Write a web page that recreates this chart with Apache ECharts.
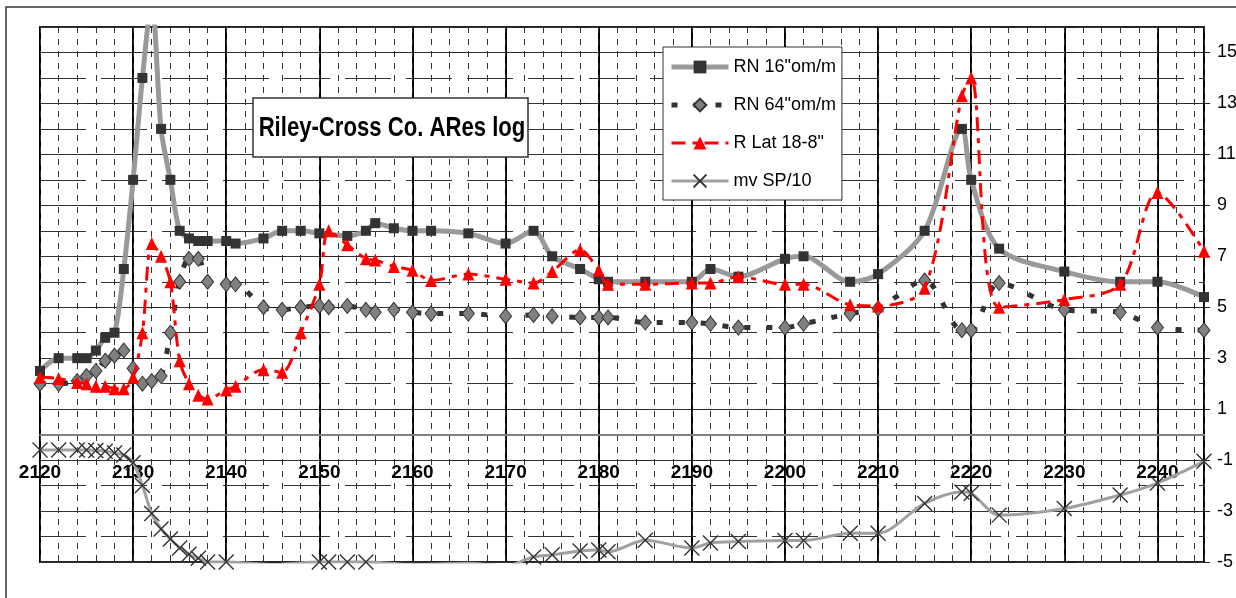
<!DOCTYPE html>
<html>
<head>
<meta charset="utf-8">
<script src="https://cdn.jsdelivr.net/npm/echarts@6/dist/echarts.min.js"></script>
<style>html,body{margin:0;padding:0;background:#fff;}#c{width:1236px;height:598px;}</style>
</head>
<body>
<div id="c"></div>
<script>
// ---- data ----
const rn16Depth = [2120,2122,2124,2125,2126,2127,2128,2129,2130,2131,2132,2133,2134,2135,2136,2137,2138,2140,2141,2144,2146,2148,2150,2153,2155,2156,2158,2160,2162,2166,2170,2173,2175,2178,2180,2181,2185,2190,2192,2195,2200,2202,2207,2210,2215,2219,2220,2223,2230,2236,2240,2245];
const rn16Value = [2.5,3.0,3.0,3.0,3.3,3.8,4.0,6.5,10,14,17,12,10,8.0,7.7,7.6,7.6,7.6,7.5,7.7,8.0,8.0,7.9,7.8,8.0,8.3,8.1,8.0,8.0,7.9,7.5,8.0,7.0,6.5,6.1,6.0,6.0,6.0,6.5,6.2,6.9,7.0,6.0,6.3,8.0,12,10,7.3,6.4,6.0,6.0,5.4];

const rn64Depth = [2120,2122,2124,2125,2126,2127,2128,2129,2130,2131,2132,2133,2134,2135,2136,2137,2138,2140,2141,2144,2146,2148,2150,2151,2153,2155,2156,2158,2160,2162,2166,2170,2173,2175,2178,2180,2181,2185,2190,2192,2195,2200,2202,2207,2210,2215,2219,2220,2223,2230,2236,2240,2245];
const rn64Value = [2.0,2.0,2.1,2.3,2.5,2.9,3.1,3.3,2.6,2.0,2.1,2.3,4.0,6.0,6.9,6.9,6.0,5.9,5.9,5.0,4.9,5.0,5.05,5.0,5.05,4.9,4.8,4.9,4.8,4.75,4.75,4.65,4.7,4.65,4.6,4.6,4.6,4.4,4.4,4.35,4.2,4.2,4.35,4.75,4.95,6.05,4.1,4.1,5.95,4.9,4.8,4.2,4.1];

const rlatDepth = [2120,2122,2124,2125,2126,2127,2128,2129,2130,2131,2132,2133,2134,2135,2136,2137,2138,2140,2141,2144,2146,2148,2150,2151,2153,2155,2156,2158,2160,2162,2166,2170,2173,2175,2178,2180,2181,2185,2190,2192,2195,2200,2202,2207,2210,2215,2219,2220,2223,2230,2236,2240,2245];
const rlatValue = [2.25,2.2,2.05,2.0,1.9,1.9,1.8,1.8,2.25,4.0,7.5,7.0,6.0,2.9,2.0,1.55,1.4,1.75,1.9,2.55,2.45,4.0,5.9,8.0,7.45,6.9,6.85,6.6,6.45,6.05,6.3,6.1,5.95,6.4,7.25,6.45,5.9,5.9,5.95,5.95,6.2,5.9,5.9,5.1,5.05,5.75,13.3,14.0,5.0,5.3,5.9,9.5,7.2];

const spDepth = [2120,2122,2124,2125,2126,2127,2128,2129,2130,2131,2132,2133,2134,2135,2136,2137,2138,2140,2145,2150,2151,2153,2155,2160,2166,2170,2173,2175,2178,2180,2181,2185,2190,2192,2195,2200,2202,2207,2210,2215,2219,2220,2223,2230,2236,2240,2245];
const spValue = [-0.6,-0.6,-0.6,-0.6,-0.62,-0.65,-0.72,-0.8,-1.1,-2.0,-3.1,-3.7,-4.1,-4.45,-4.7,-4.85,-5.0,-5.0,-5.1,-5.0,-5.0,-5.0,-5.0,-5.1,-5.05,-5.15,-4.8,-4.72,-4.57,-4.53,-4.6,-4.15,-4.45,-4.25,-4.2,-4.16,-4.16,-3.87,-3.87,-2.7,-2.25,-2.3,-3.16,-2.9,-2.37,-1.9,-1.05];

const seriesNames = ['RN 16"om/m', 'RN 64"om/m', 'R Lat 18-8"', 'mv SP/10'];
const titleText = 'Riley-Cross Co. ARes log';

// ---- chart ----
const FONT = "'Liberation Sans', Arial, sans-serif";
const pair = (xs, ys) => xs.map((x, i) => [x, ys[i]]);

const chart = echarts.init(document.getElementById('c'), null, {renderer: 'canvas'});
chart.setOption({
  animation: false,
  backgroundColor: '#fff',
  grid: {left: 40, top: 27, right: 32, bottom: 36, outerBoundsMode: 'none', containLabel: false,
         show: true, borderColor: '#222', borderWidth: 2, backgroundColor: 'transparent'},
  xAxis: [{
    type: 'value', min: 2120, max: 2245, interval: 10,
    axisLine: {onZero: true, onZeroAxisIndex: 0, lineStyle: {color: '#808080', width: 2}},
    axisTick: {show: false},
    axisLabel: {margin: -99, fontSize: 19, fontWeight: 'bold', fontFamily: FONT, color: '#000',
                showMaxLabel: false, showMinLabel: true, formatter: (v) => String(v)},
    splitLine: {show: true, lineStyle: {color: '#000', width: 2}}
  }, {
    type: 'value', min: 2120, max: 2245, interval: 2, position: 'top',
    axisLine: {show: false}, axisTick: {show: false}, axisLabel: {show: false},
    splitLine: {show: true, lineStyle: {color: '#333', width: 1, type: [6, 6]}}
  }],
  yAxis: [{
    type: 'value', position: 'right', min: -5, max: 16, interval: 2,
    axisLine: {show: false},
    axisTick: {show: true, length: 6, lineStyle: {color: '#222'}},
    axisLabel: {margin: 13, fontSize: 18, fontFamily: FONT, color: '#000', showMaxLabel: false},
    splitLine: {show: true, lineStyle: {color: '#222', width: 1}}
  }, {
    type: 'value', position: 'left', min: -5, max: 16, interval: 1,
    axisLine: {show: false}, axisTick: {show: false}, axisLabel: {show: false},
    splitLine: {show: true, lineStyle: {color: '#333', width: 1, type: [46, 15]}}
  }],
  legend: {
    orient: 'vertical', left: 663, top: 47,
    data: [
      {name: seriesNames[0], lineStyle: {width: 5}},
      {name: seriesNames[1], lineStyle: {width: 5}},
      {name: seriesNames[2], lineStyle: {width: 3}},
      {name: seriesNames[3], lineStyle: {width: 3}}
    ],
    itemWidth: 57, itemHeight: 16, itemGap: 20,
    padding: [11, 6, 10, 6],
    backgroundColor: '#fff', borderColor: '#333', borderWidth: 1,
    textStyle: {fontSize: 18, fontFamily: FONT, color: '#000'}
  },
  graphic: [
    {type: 'rect', shape: {x: 6, y: 7, width: 1260, height: 640}, style: {fill: 'none', stroke: '#333', lineWidth: 1.5}, silent: true, z: 100},
    {type: 'rect', shape: {x: 253, y: 98, width: 275, height: 59}, style: {fill: '#fff', stroke: '#333', lineWidth: 1.5}, z: 100},
    {type: 'text', x: 392, y: 128, scaleX: 0.79, style: {text: titleText, font: "bold 28px " + FONT, fill: '#000', align: 'center', verticalAlign: 'middle'}, z: 101}
  ],
  series: [{
    name: seriesNames[0], type: 'line', smooth: 0.3,
    data: pair(rn16Depth, rn16Value),
    symbol: 'rect', symbolSize: 10,
    itemStyle: {color: '#333333'},
    lineStyle: {color: '#999999', width: 5},
    z: 3
  }, {
    name: seriesNames[1], type: 'line', smooth: 0.3,
    data: pair(rn64Depth, rn64Value),
    symbol: 'diamond', symbolSize: [12, 15],
    itemStyle: {color: '#808080', borderColor: '#333', borderWidth: 1},
    lineStyle: {color: '#333333', width: 5, type: [6, 16]},
    z: 4
  }, {
    name: seriesNames[2], type: 'line', smooth: 0.3,
    data: pair(rlatDepth, rlatValue),
    symbol: 'triangle', symbolSize: [12, 13],
    itemStyle: {color: '#ff0000'},
    lineStyle: {color: '#ff0000', width: 3, type: [14, 7, 5, 7]},
    z: 5
  }, {
    name: seriesNames[3], type: 'line', smooth: 0.3,
    data: pair(spDepth, spValue),
    symbol: 'path://M0,0L10,10M10,0L0,10',
    symbolSize: (v) => (v[1] < -5.02 ? 0 : 15),
    itemStyle: {color: 'none', borderColor: '#333', borderWidth: 1.4},
    lineStyle: {color: '#a0a0a0', width: 3},
    z: 3
  }]
});
</script>
</body>
</html>
